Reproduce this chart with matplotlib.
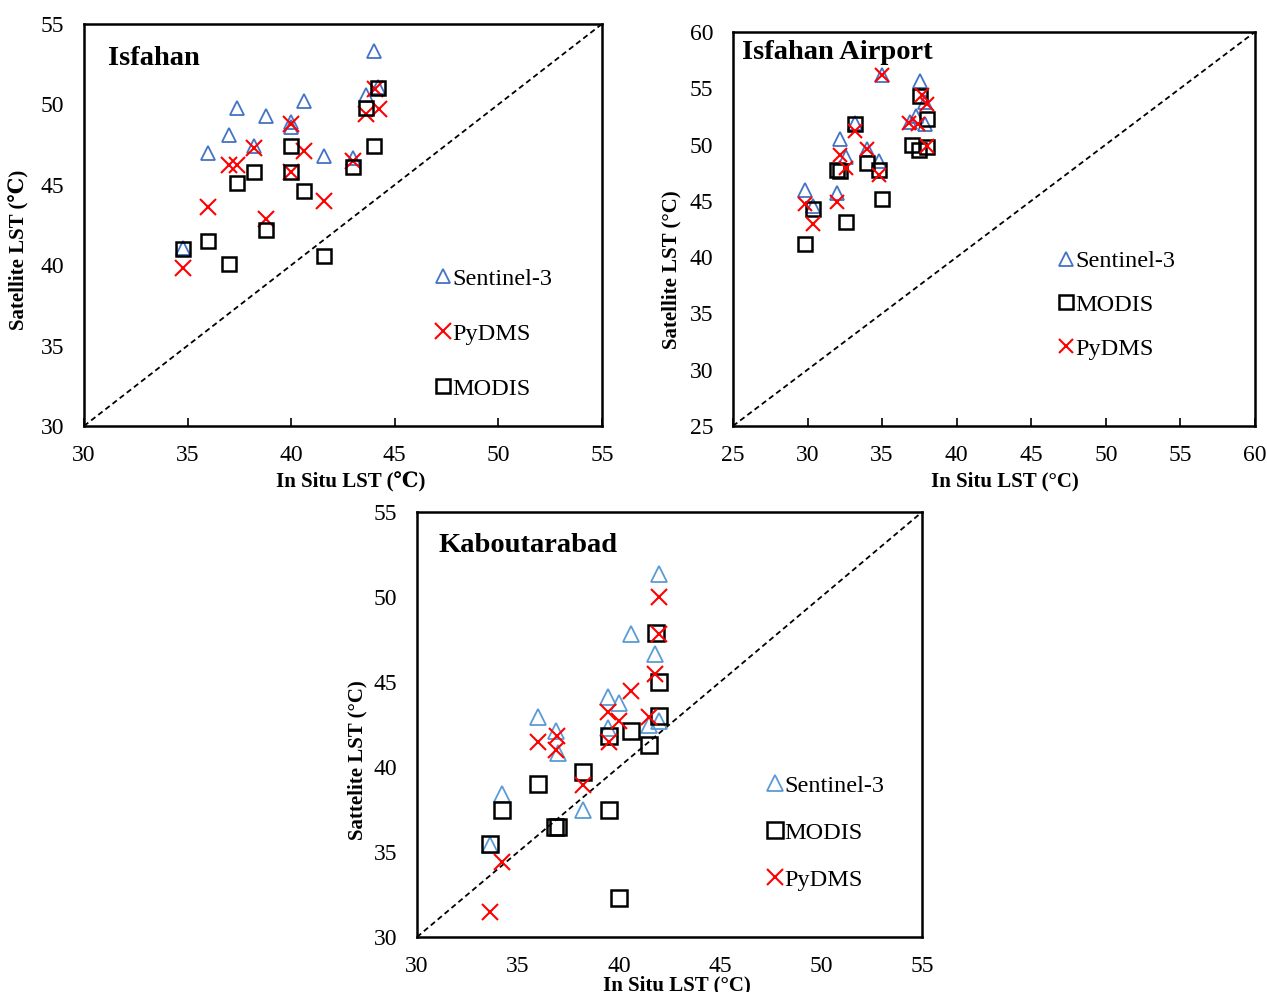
import numpy as np
import matplotlib
matplotlib.use("Agg")
import matplotlib.pyplot as plt

plt.rcParams['font.family'] = ['Liberation Serif', 'DejaVu Serif']

# ---- Isfahan ----
isf_s3_x = [34.8, 36.0, 37.0, 37.4, 38.2, 38.8, 40.0, 40.0, 40.6, 41.6, 43.0, 43.6, 44.0, 44.2]
isf_s3_y = [41.05, 46.95, 48.1, 49.8, 47.4, 49.3, 48.9, 48.6, 50.2, 46.8, 46.65, 50.6, 53.3, 51.1]
isf_py_x = [34.8, 36.0, 37.0, 37.4, 38.2, 38.8, 40.0, 40.0, 40.6, 41.6, 43.0, 43.6, 44.05, 44.25]
isf_py_y = [39.85, 43.6, 46.2, 46.2, 47.3, 42.9, 48.75, 45.8, 47.1, 44.0, 46.45, 49.4, 50.95, 49.7]
isf_mo_x = [34.8, 36.0, 37.0, 37.4, 38.2, 38.8, 40.0, 40.0, 40.6, 41.6, 43.0, 43.6, 44.0, 44.2]
isf_mo_y = [41.0, 41.5, 40.1, 45.1, 45.8, 42.2, 47.4, 45.8, 44.6, 40.6, 46.1, 49.8, 47.4, 51.0]

# ---- Isfahan Airport ----
air_s3_x = [29.8, 30.4, 32.0, 32.2, 32.6, 33.2, 34.0, 34.8, 35.0, 37.55, 37.9, 37.3, 37.9, 36.9]
air_s3_y = [45.95, 44.5, 45.7, 50.45, 48.9, 51.95, 49.6, 48.5, 56.2, 55.6, 53.8, 52.5, 51.8, 52.0]
air_mo_x = [29.8, 30.4, 32.0, 32.2, 32.6, 33.2, 34.0, 34.8, 35.0, 37.55, 38.0, 37.0, 37.45, 38.0]
air_mo_y = [41.2, 44.3, 47.7, 47.65, 43.15, 51.8, 48.4, 47.7, 45.2, 54.3, 52.3, 49.95, 49.5, 49.8]
air_py_x = [29.8, 30.4, 32.0, 32.2, 32.6, 33.2, 34.0, 34.8, 35.0, 37.65, 38.0, 36.8, 37.4, 38.0]
air_py_y = [44.7, 42.95, 44.85, 49.1, 47.9, 51.2, 49.6, 47.25, 56.2, 54.4, 53.6, 51.95, 51.8, 49.9]

# ---- Kaboutarabad ----
kab_s3_x = [42.0, 40.6, 41.8, 39.45, 40.0, 39.45, 41.5, 42.0, 36.0, 36.9, 37.0, 34.2, 38.2, 33.6]
kab_s3_y = [51.35, 47.8, 46.65, 44.15, 43.75, 42.3, 42.5, 42.7, 42.95, 42.1, 40.85, 38.4, 37.5, 35.4]
kab_mo_x = [41.85, 42.0, 42.0, 41.5, 40.6, 39.5, 38.2, 36.0, 34.2, 36.85, 37.0, 39.5, 33.6, 40.0]
kab_mo_y = [47.9, 45.0, 43.0, 41.3, 42.1, 41.8, 39.7, 39.0, 37.5, 36.5, 36.5, 37.5, 35.5, 32.3]
kab_py_x = [42.0, 42.0, 41.8, 40.6, 41.5, 39.45, 40.0, 39.5, 36.0, 36.95, 36.9, 38.2, 34.2, 33.6]
kab_py_y = [50.0, 47.8, 45.5, 44.5, 42.95, 43.25, 42.7, 41.5, 41.45, 41.8, 41.0, 38.95, 34.4, 31.5]

BLUE = '#4472C4'
LBLUE = '#5B9BD5'
RED = '#FF0000'

fig = plt.figure(figsize=(12.67, 9.92), dpi=100)


def style_axes(ax, lo, hi, step):
    ax.set_xlim(lo, hi)
    ax.set_ylim(lo, hi)
    ticks = np.arange(lo, hi + 0.1, step)
    ax.set_xticks(ticks)
    ax.set_yticks(ticks)
    ax.plot([lo, hi], [lo, hi], color='black', ls=(0, (3, 2)), lw=1.3, zorder=1)
    for s in ax.spines.values():
        s.set_linewidth(1.8)
        s.set_color('black')
    ax.tick_params(axis='x', direction='in', length=6, width=1.2, pad=14, labelsize=17)
    ax.tick_params(axis='y', direction='in', length=0, pad=14, labelsize=17)


# Isfahan
ax1 = fig.add_axes([0.0663, 0.5706, 0.4088, 0.4052])
style_axes(ax1, 30, 55, 5)
ax1.plot(isf_s3_x, isf_s3_y, '^', mfc='none', mec=BLUE, mew=1.3, ms=10, ls='none', label='Sentinel-3', zorder=3)
ax1.plot(isf_py_x, isf_py_y, 'x', color=RED, mew=1.5, ms=11, ls='none', label='PyDMS', zorder=4)
ax1.plot(isf_mo_x, isf_mo_y, 's', mfc='none', mec='black', mew=1.8, ms=10, ls='none', label='MODIS', zorder=5)
ax1.text(0.046, 0.915, 'Isfahan', transform=ax1.transAxes, fontsize=20.5, fontweight='bold', va='center', ha='left')
ax1.set_xlabel('In Situ LST (\u2103)', fontsize=15, fontweight='bold', va='center')
ax1.set_ylabel('Satellite LST (\u2103)', fontsize=15, fontweight='bold', va='center')
ax1.xaxis.set_label_coords(0.514, -0.139)
ax1.yaxis.set_label_coords(-0.124, 0.438)
ax1.legend(loc='center left', bbox_to_anchor=(0.655, 0.229), frameon=False, fontsize=17.5,
           labelspacing=1.36, handlelength=0.6, handletextpad=0.1, borderpad=0)

# Isfahan Airport
ax2 = fig.add_axes([0.5785, 0.5706, 0.412, 0.3972])
style_axes(ax2, 25, 60, 5)
ax2.plot(air_s3_x, air_s3_y, '^', mfc='none', mec=BLUE, mew=1.3, ms=9.5, ls='none', label='Sentinel-3', zorder=3)
ax2.plot(air_mo_x, air_mo_y, 's', mfc='none', mec='black', mew=1.8, ms=9.5, ls='none', label='MODIS', zorder=4)
ax2.plot(air_py_x, air_py_y, 'x', color=RED, mew=1.5, ms=10.5, ls='none', label='PyDMS', zorder=5)
ax2.text(0.017, 0.949, 'Isfahan Airport', transform=ax2.transAxes, fontsize=20.5, fontweight='bold', va='center', ha='left')
ax2.set_xlabel('In Situ LST (\u00b0C)', fontsize=15, fontweight='bold', va='center')
ax2.set_ylabel('Satellite LST (\u00b0C)', fontsize=15, fontweight='bold', va='center')
ax2.xaxis.set_label_coords(0.521, -0.142)
ax2.yaxis.set_label_coords(-0.117, 0.396)
ax2.legend(loc='center left', bbox_to_anchor=(0.6, 0.307), frameon=False, fontsize=17.5,
           labelspacing=0.9, handlelength=0.6, handletextpad=0.1, borderpad=0)

# Kaboutarabad
ax3 = fig.add_axes([0.3291, 0.0554, 0.3986, 0.4284])
style_axes(ax3, 30, 55, 5)
ax3.tick_params(axis='x', length=0)
ax3.plot(kab_s3_x, kab_s3_y, '^', mfc='none', mec=LBLUE, mew=1.3, ms=11.5, ls='none', label='Sentinel-3', zorder=3)
ax3.plot(kab_mo_x, kab_mo_y, 's', mfc='none', mec='black', mew=1.8, ms=11.5, ls='none', label='MODIS', zorder=4)
ax3.plot(kab_py_x, kab_py_y, 'x', color=RED, mew=1.5, ms=12, ls='none', label='PyDMS', zorder=5)
ax3.text(0.0436, 0.922, 'Kaboutarabad', transform=ax3.transAxes, fontsize=20.5, fontweight='bold', va='center', ha='left')
ax3.set_xlabel('In Situ LST (\u00b0C)', fontsize=15, fontweight='bold', va='center')
ax3.set_ylabel('Sattelite LST (\u00b0C)', fontsize=15, fontweight='bold', va='center')
ax3.xaxis.set_label_coords(0.515, -0.114)
ax3.yaxis.set_label_coords(-0.117, 0.416)
ax3.legend(loc='center left', bbox_to_anchor=(0.67, 0.245), frameon=False, fontsize=17.5,
           labelspacing=1.03, handlelength=0.6, handletextpad=0.1, borderpad=0)

fig.savefig('out.png', dpi=100)
